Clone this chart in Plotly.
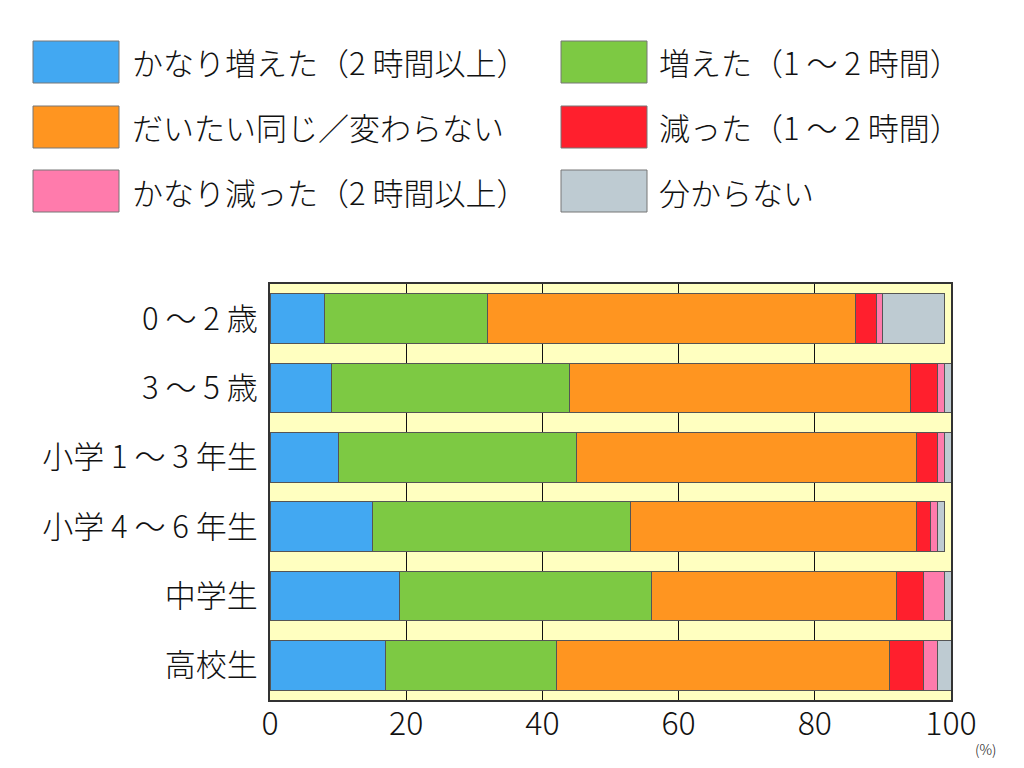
import plotly.graph_objects as go

categories = ["0 ～ 2 歳", "3 ～ 5 歳", "小学 1 ～ 3 年生", "小学 4 ～ 6 年生", "中学生", "高校生"]
series_names = ["かなり増えた（2 時間以上）", "増えた（1 ～ 2 時間）", "だいたい同じ／変わらない",
                "減った（1 ～ 2 時間）", "かなり減った（2 時間以上）", "分からない"]
much_increased = [8, 9, 10, 15, 19, 17]
increased = [24, 35, 35, 38, 37, 25]
same = [54, 50, 50, 42, 36, 49]
decreased = [3, 4, 3, 2, 4, 5]
much_decreased = [1, 1, 1, 1, 3, 2]
unknown = [9, 1, 1, 1, 1, 2]
colors = ["#42A8F2", "#7DC943", "#FF9520", "#FF1F2D", "#FF7BAC", "#BECBD2"]
x_ticks = [0, 20, 40, 60, 80, 100]

series_values = [much_increased, increased, same, decreased, much_decreased, unknown]

FONT = "Noto Sans CJK JP Light, Noto Sans CJK JP"
OFF = 8  # page offset of the figure in the browser

fig = go.Figure()
for name, vals, col in zip(series_names, series_values, colors):
    fig.add_trace(go.Bar(
        y=categories, x=vals, name=name, orientation="h",
        marker=dict(color=col, line=dict(color="#555555", width=1)),
        width=0.72, showlegend=False,
    ))

# plot area in page pixels
PL, PR, PT, PB = 270, 951, 284, 700
L = PL - OFF
T = PT - OFF
R = 1024 - (PR - OFF)
B = 768 - (PB - OFF)
pw = 1024 - L - R
ph = 768 - T - B

def px(x):  # page px -> plot paper
    return (x - OFF - L) / pw

def py(y):
    return (768 - (y - OFF) - B) / ph

legend_cols = [(33, 130), (561, 657)]
legend_rows = [62, 127, 191]
order = [(0, 0), (1, 0), (0, 1), (1, 1), (0, 2), (1, 2)]
shapes = []
annotations = []
for i, (c, r) in enumerate(order):
    x0, tx = legend_cols[c]
    yc = legend_rows[r]
    shapes.append(dict(type="rect", xref="paper", yref="paper",
                       x0=px(x0), x1=px(x0 + 86), y0=py(yc + 21), y1=py(yc - 21),
                       fillcolor=colors[i], line=dict(color="#777777", width=1)))
    annotations.append(dict(xref="paper", yref="paper", x=px(tx), y=py(yc), text=series_names[i],
                            showarrow=False, xanchor="left", yanchor="middle",
                            font=dict(family=FONT, size=31, color="#111111")))

annotations.append(dict(xref="paper", yref="paper", x=px(985), y=py(749), text="(%)",
                        showarrow=False, xanchor="center", yanchor="middle",
                        font=dict(family=FONT, size=14, color="#111111")))

fig.update_layout(
    barmode="stack",
    width=1024, height=768,
    margin=dict(l=L, r=R, t=T, b=B, pad=0),
    paper_bgcolor="white",
    plot_bgcolor="#FFFFC0",
    shapes=shapes,
    annotations=annotations,
    bargap=0.28,
    xaxis=dict(range=[0, 100], tickvals=x_ticks, ticktext=[str(v) for v in x_ticks],
               showgrid=True, gridcolor="#111111", gridwidth=1, zeroline=False,
               showline=True, linecolor="#333333", linewidth=2, mirror=True,
               ticks="", tickfont=dict(family=FONT, size=32, color="#111111"),
               ticklabelstandoff=-5, fixedrange=True),
    yaxis=dict(categoryorder="array", categoryarray=categories, autorange="reversed",
               showgrid=False, zeroline=False,
               showline=True, linecolor="#333333", linewidth=2, mirror=True,
               ticks="", tickfont=dict(family=FONT, size=31, color="#111111"),
               ticklabelstandoff=4, fixedrange=True),
)

fig.write_html("out.html", config={"displayModeBar": False})
